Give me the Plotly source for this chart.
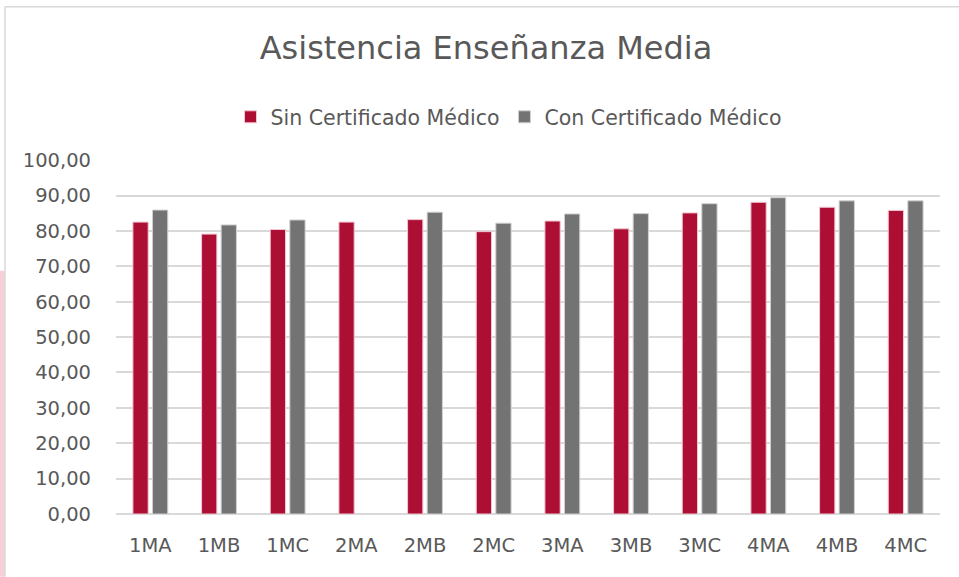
import plotly.graph_objects as go

categories = ["1MA", "1MB", "1MC", "2MA", "2MB", "2MC", "3MA", "3MB", "3MC", "4MA", "4MB", "4MC"]
sin_cert = [82.5, 79.1, 80.4, 82.5, 83.2, 79.8, 82.8, 80.6, 85.1, 88.1, 86.7, 85.8]
con_cert = [85.9, 81.7, 83.1, None, 85.3, 82.2, 84.8, 84.9, 87.7, 89.4, 88.5, 88.5]
y_ticks = [0, 10, 20, 30, 40, 50, 60, 70, 80, 90, 100]

W, H = 959, 577
L, R, T, B = 116, 19, 159, 63
pw = W - L - R
ph = H - T - B

def px2x(px):
    return (px - L) / pw

def py2y(py):
    return (H - B - py) / ph

FONT = "DejaVu Sans"

fig = go.Figure()
fig.add_trace(go.Bar(
    name="Sin Certificado Médico", x=categories, y=sin_cert,
    marker=dict(color="#AD0E34", line=dict(color="#F2C6D0", width=1)),
))
fig.add_trace(go.Bar(
    name="Con Certificado Médico", x=categories, y=con_cert,
    marker=dict(color="#737373", line=dict(color="#D0D0D0", width=1)),
))

shapes = [
    dict(type="rect", xref="paper", yref="paper", x0=px2x(0), x1=px2x(5), y0=py2y(577), y1=py2y(270),
         fillcolor="#F6D0D8", line=dict(width=0), layer="below"),
    dict(type="line", xref="paper", yref="paper", x0=px2x(5), x1=px2x(5), y0=py2y(577), y1=py2y(5),
         line=dict(color="#D9D9D9", width=1.5)),
    dict(type="line", xref="paper", yref="paper", x0=px2x(5), x1=px2x(959), y0=py2y(5), y1=py2y(5),
         line=dict(color="#D9D9D9", width=1.5)),
]

fig.update_layout(
    width=W, height=H,
    margin=dict(l=L, r=R, t=T, b=B, pad=0),
    paper_bgcolor="white", plot_bgcolor="white",
    separators=",.",
    barmode="group", bargap=0.43, bargroupgap=0.22,
    title=dict(text="Asistencia Enseñanza Media", x=486 / W, xref="container", xanchor="center",
               y=1 - 48 / H, yref="container", yanchor="middle",
               font=dict(family=FONT, size=32, color="#595959")),
    legend=dict(orientation="h", x=509 / W, xref="container", xanchor="center",
                y=1 - 117 / H, yref="container", yanchor="middle",
                font=dict(family=FONT, size=20.5, color="#595959"),
                itemwidth=30, traceorder="normal"),
    shapes=shapes,
    font=dict(family=FONT, color="#595959"),
)
fig.update_yaxes(range=[0, 100], tickvals=y_ticks, tickformat=".2f",
                 showgrid=True, gridcolor="#D9D9D9", gridwidth=1.5,
                 zeroline=True, zerolinecolor="#D9D9D9", zerolinewidth=1.5,
                 showline=False, ticks="", ticklabelstandoff=24,
                 tickfont=dict(family=FONT, size=19.5, color="#595959"))
fig.update_xaxes(showgrid=False, showline=False, ticks="",
                 tickfont=dict(family=FONT, size=19.5, color="#595959"),
                 ticklabelstandoff=17)

fig.write_html("out.html", config={"displayModeBar": False},
               post_script="document.body.style.margin='0';document.body.style.padding='0';")
